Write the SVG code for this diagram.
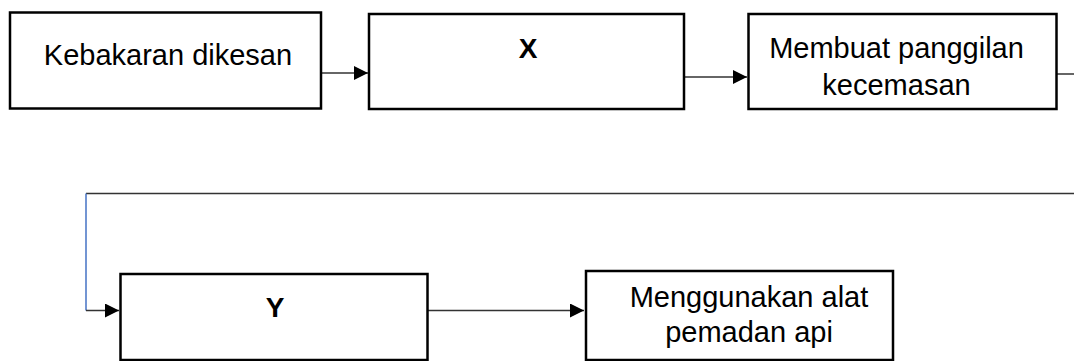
<svg xmlns="http://www.w3.org/2000/svg" width="1074" height="361" viewBox="0 0 1074 361">
<style>
.box{fill:#fff;stroke:#000;stroke-width:2.5}
.t{font-family:"Liberation Sans",Arial,sans-serif;font-size:29px;fill:#000;text-anchor:middle}
.b{font-weight:bold;font-size:28px}
.c{fill:none;stroke:#333;stroke-width:1.5}
</style>
<defs>
<marker id="ah" markerWidth="14" markerHeight="14" refX="14" refY="7" orient="auto" markerUnits="userSpaceOnUse">
<path d="M0,0 L14,7 L0,14 Z" fill="#000"/>
</marker>
</defs>
<g id="connectors">
<line class="c" x1="322" y1="73" x2="368" y2="73" marker-end="url(#ah)"/>
<line class="c" x1="685" y1="77" x2="747" y2="77" marker-end="url(#ah)"/>
<polyline class="c" points="1057,74 1074,74"/>
<line class="c" x1="1074" y1="193.5" x2="86" y2="193.5"/>
<line x1="86" y1="193.5" x2="86" y2="310.5" stroke="#4472c4" stroke-width="1.5"/>
<line class="c" x1="86" y1="310.5" x2="119" y2="310.5" marker-end="url(#ah)"/>
<line class="c" x1="428" y1="310.5" x2="584" y2="310.5" marker-end="url(#ah)"/>
</g>
<g id="n1"><rect class="box" x="10" y="12.5" width="311" height="96"/><text class="t" x="168" y="65">Kebakaran dikesan</text></g>
<g id="n2"><rect class="box" x="369" y="14" width="315" height="95"/><text class="t b" x="528" y="58">X</text></g>
<g id="n3"><rect class="box" x="748.5" y="14" width="308" height="95"/><text class="t" x="896.5" y="58">Membuat panggilan</text><text class="t" x="896.5" y="95">kecemasan</text></g>
<g id="n4"><rect class="box" x="120.5" y="274" width="307" height="86"/><text class="t b" x="275" y="317">Y</text></g>
<g id="n5"><rect class="box" x="586" y="271" width="307" height="89"/><text class="t" x="749" y="307">Menggunakan alat</text><text class="t" x="749" y="342">pemadan api</text></g>
</svg>
